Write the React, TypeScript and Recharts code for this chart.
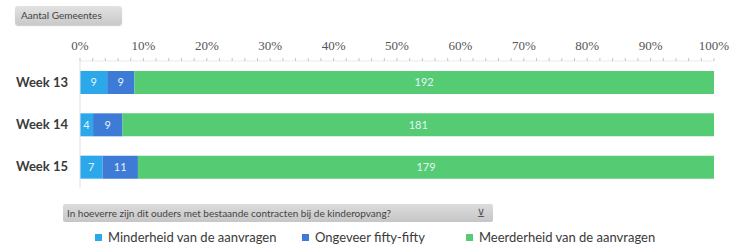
import React from "react";
import { Bar, BarChart, LabelList, XAxis, YAxis } from "recharts";

const weeks = ["Week 13", "Week 14", "Week 15"];
const minderheid = [9, 4, 7];
const fiftyFifty = [9, 9, 11];
const meerderheid = [192, 181, 179];
const percentTicks = [0, 0.02, 0.04, 0.06, 0.08, 0.1, 0.12, 0.14, 0.16, 0.18, 0.2, 0.22, 0.24, 0.26, 0.28, 0.3, 0.32, 0.34, 0.36, 0.38, 0.4, 0.42, 0.44, 0.46, 0.48, 0.5, 0.52, 0.54, 0.56, 0.58, 0.6, 0.62, 0.64, 0.66, 0.68, 0.7, 0.72, 0.74, 0.76, 0.78, 0.8, 0.82, 0.84, 0.86, 0.88, 0.9, 0.92, 0.94, 0.96, 0.98, 1];

const series = [
  { dataKey: "minderheid", label: "Minderheid van de aanvragen", color: "#2ba8ea", legendX: 95 },
  { dataKey: "fifty", label: "Ongeveer fifty-fifty", color: "#3d7bd6", legendX: 302 },
  { dataKey: "meerderheid", label: "Meerderheid van de aanvragen", color: "#55cb74", legendX: 466 }
];

const data = weeks.map((week, i) => ({
  week,
  minderheid: minderheid[i],
  fifty: fiftyFifty[i],
  meerderheid: meerderheid[i]
}));

const PercentTick = (props: any) => {
  const { x, y, payload } = props;
  const v = Math.round(payload.value * 100);
  const major = v % 10 === 0;
  return (
    <g>
      <line x1={x} x2={x} y1={y - 3} y2={y} stroke="#c4c4c4" strokeWidth={1} />
      {major && (
        <text x={x} y={y - 11} textAnchor="middle" fontFamily="'Liberation Serif', serif" fontSize={13} fill="#555">
          {v}%
        </text>
      )}
    </g>
  );
};

export default function App() {
  return (
    <div style={{ position: "fixed", left: 0, top: 0, width: 733, height: 246, background: "#fff", overflow: "hidden" }}>
      <div
        style={{
          position: "absolute",
          left: 15,
          top: 6,
          width: 107,
          height: 19,
          borderRadius: 3,
          background: "linear-gradient(#e2e2e2, #c9c9c9)",
          boxShadow: "0 1px 1px rgba(0,0,0,0.2)",
          fontFamily: "Lato, sans-serif",
          fontSize: 10,
          lineHeight: "19px",
          color: "#444",
          paddingLeft: 6,
          boxSizing: "border-box"
        }}
      >
        Aantal Gemeentes
      </div>
      <BarChart
        width={733}
        height={246}
        data={data}
        layout="vertical"
        stackOffset="expand"
        margin={{ top: 60, right: 19, left: 0, bottom: 58 }}
      >
        <XAxis
          type="number"
          orientation="top"
          domain={[0, 1]}
          ticks={percentTicks}
          interval={0}
          tick={<PercentTick />}
          tickLine={false}
          tickSize={0}
          tickMargin={0}
          axisLine={{ stroke: "#ececec" }}
          height={1}
        />
        <YAxis
          type="category"
          dataKey="week"
          width={80}
          tickLine={false}
          axisLine={{ stroke: "#e0e0e0" }}
          tickSize={0}
          tickMargin={12}
          tick={{ fontFamily: "Lato, sans-serif", fontSize: 13, fontWeight: 700, fill: "#3a3a3a" }}
        />
        {series.map((s) => (
          <Bar key={s.dataKey} dataKey={s.dataKey} name={s.label} stackId="a" fill={s.color} barSize={23} isAnimationActive={false}>
            <LabelList dataKey={s.dataKey} position="center" fill="#e6f3f8" fontSize={11} fontFamily="Lato, sans-serif" />
          </Bar>
        ))}
      </BarChart>
      <div
        style={{
          position: "absolute",
          left: 63,
          top: 204,
          width: 430,
          height: 18,
          borderRadius: 2,
          background: "linear-gradient(#dcdcdc, #c6c6c6)",
          fontFamily: "Lato, sans-serif",
          fontSize: 10,
          lineHeight: "18px",
          color: "#444",
          paddingLeft: 4,
          boxSizing: "border-box"
        }}
      >
        In hoeverre zijn dit ouders met bestaande contracten bij de kinderopvang?
        <span style={{ position: "absolute", right: 8, top: 0, fontSize: 11, color: "#555" }}>⊻</span>
      </div>
      {series.map((s) => (
        <div
          key={s.dataKey}
          style={{
            position: "absolute",
            left: s.legendX,
            top: 229,
            display: "flex",
            alignItems: "center",
            fontFamily: "Lato, sans-serif",
            fontSize: 13,
            color: "#3a3a3a",
            whiteSpace: "nowrap"
          }}
        >
          <span style={{ width: 7, height: 7, background: s.color, display: "inline-block", marginRight: 6 }} />
          {s.label}
        </div>
      ))}
    </div>
  );
}
